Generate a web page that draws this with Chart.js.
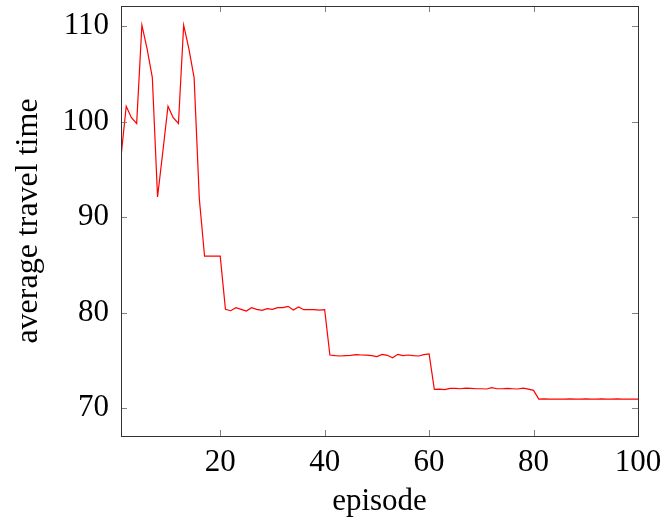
<!DOCTYPE html>
<html>
<head>
<meta charset="utf-8">
<script src="https://cdn.jsdelivr.net/npm/chart.js@4/dist/chart.umd.min.js"></script>
<style>
  html, body { margin: 0; padding: 0; background: #fff; }
  #wrap { width: 665px; height: 519px; }
</style>
</head>
<body>
<div id="wrap"><canvas id="travelChart" width="665" height="519"></canvas></div>
<script>
const episodes = [];
for (let i = 1; i <= 100; i++) episodes.push(i);

const travelTime = [
  96.3, 101.6, 100.4, 99.8, 110.1, 107.6, 104.6, 92.1, 96.8, 101.6,
  100.4, 99.8, 110.1, 107.6, 104.6, 91.9, 85.9, 85.9, 85.9, 85.9,
  80.33, 80.19, 80.51, 80.33, 80.16, 80.51, 80.33, 80.22, 80.4, 80.33,
  80.51, 80.51, 80.65, 80.26, 80.58, 80.3, 80.3, 80.3, 80.26, 80.3,
  75.55, 75.48, 75.45, 75.48, 75.52, 75.59, 75.55, 75.53, 75.48, 75.38,
  75.62, 75.52, 75.27, 75.62, 75.48, 75.55, 75.48, 75.45, 75.59, 75.66,
  71.95, 71.98, 71.92, 72.06, 72.06, 72.02, 72.09, 72.06, 72.02, 72.02,
  71.99, 72.13, 72.02, 72.02, 72.06, 72.02, 71.99, 72.09, 71.97, 71.85,
  70.94, 70.95, 70.93, 70.93, 70.94, 70.94, 70.95, 70.93, 70.94, 70.95,
  70.94, 70.93, 70.95, 70.94, 70.94, 70.95, 70.94, 70.93, 70.94, 70.94
];

const xTicks = [20, 40, 60, 80, 100];
const yTicks = [70, 80, 90, 100, 110];

const serif = "'Liberation Serif', 'DejaVu Serif', serif";

// pgfplots style: box around the plot, small ticks pointing inwards on all sides
const boxTicks = {
  id: "boxTicks",
  afterDraw(chart) {
    const ctx = chart.ctx;
    const a = chart.chartArea;
    const xs = chart.scales.x;
    const ys = chart.scales.y;
    const len = 6;
    ctx.save();
    ctx.strokeStyle = "#808080";
    ctx.lineWidth = 1;
    ctx.beginPath();
    xTicks.forEach(v => {
      const px = Math.round(xs.getPixelForValue(v)) + 0.5;
      ctx.moveTo(px, a.bottom); ctx.lineTo(px, a.bottom - len);
      ctx.moveTo(px, a.top); ctx.lineTo(px, a.top + len);
    });
    yTicks.forEach(v => {
      const py = Math.round(ys.getPixelForValue(v)) + 0.5;
      ctx.moveTo(a.left, py); ctx.lineTo(a.left + len, py);
      ctx.moveTo(a.right, py); ctx.lineTo(a.right - len, py);
    });
    ctx.stroke();
    ctx.strokeStyle = "#333";
    ctx.strokeRect(Math.round(a.left) + 0.5, Math.round(a.top) + 0.5,
      Math.round(a.right - a.left), Math.round(a.bottom - a.top));
    ctx.restore();
  }
};

const config = {
  type: "line",
  data: {
    datasets: [{
      label: "average travel time",
      data: episodes.map((e, i) => ({ x: e, y: travelTime[i] })),
      borderColor: "#ff0000",
      borderWidth: 1.2,
      pointRadius: 0,
      tension: 0,
      fill: false
    }]
  },
  options: {
    responsive: false,
    animation: false,
    layout: { padding: { top: 6, right: 27, left: 0, bottom: 0 } },
    plugins: {
      legend: { display: false },
      tooltip: { enabled: false }
    },
    scales: {
      x: {
        type: "linear",
        min: 1,
        max: 100,
        afterBuildTicks: s => { s.ticks = xTicks.map(v => ({ value: v })); },
        afterFit: s => { s.height = 83; s.paddingLeft = 0; s.paddingRight = 0; },
        grid: { display: false, drawTicks: false },
        border: { display: false },
        ticks: { color: "#000", padding: 8, font: { family: serif, size: 31 } },
        title: { display: true, text: "episode", color: "#000", padding: { top: 0, bottom: -1 },
                 font: { family: serif, size: 31 } }
      },
      y: {
        min: 67.07,
        max: 112.1,
        afterBuildTicks: s => { s.ticks = yTicks.map(v => ({ value: v })); },
        afterFit: s => { s.width = 121; s.paddingTop = 0; s.paddingBottom = 0; },
        grid: { display: false, drawTicks: false },
        border: { display: false },
        ticks: { color: "#000", padding: 12, font: { family: serif, size: 31 } },
        title: { display: true, text: "average travel time", color: "#000", padding: { top: 9, bottom: 0 },
                 font: { family: serif, size: 32 } }
      }
    }
  },
  plugins: [boxTicks]
};

const canvas = document.getElementById("travelChart");
if (canvas) {
  new Chart(canvas, config);
} else {
  console.error("Canvas element not found");
}
</script>
</body>
</html>
